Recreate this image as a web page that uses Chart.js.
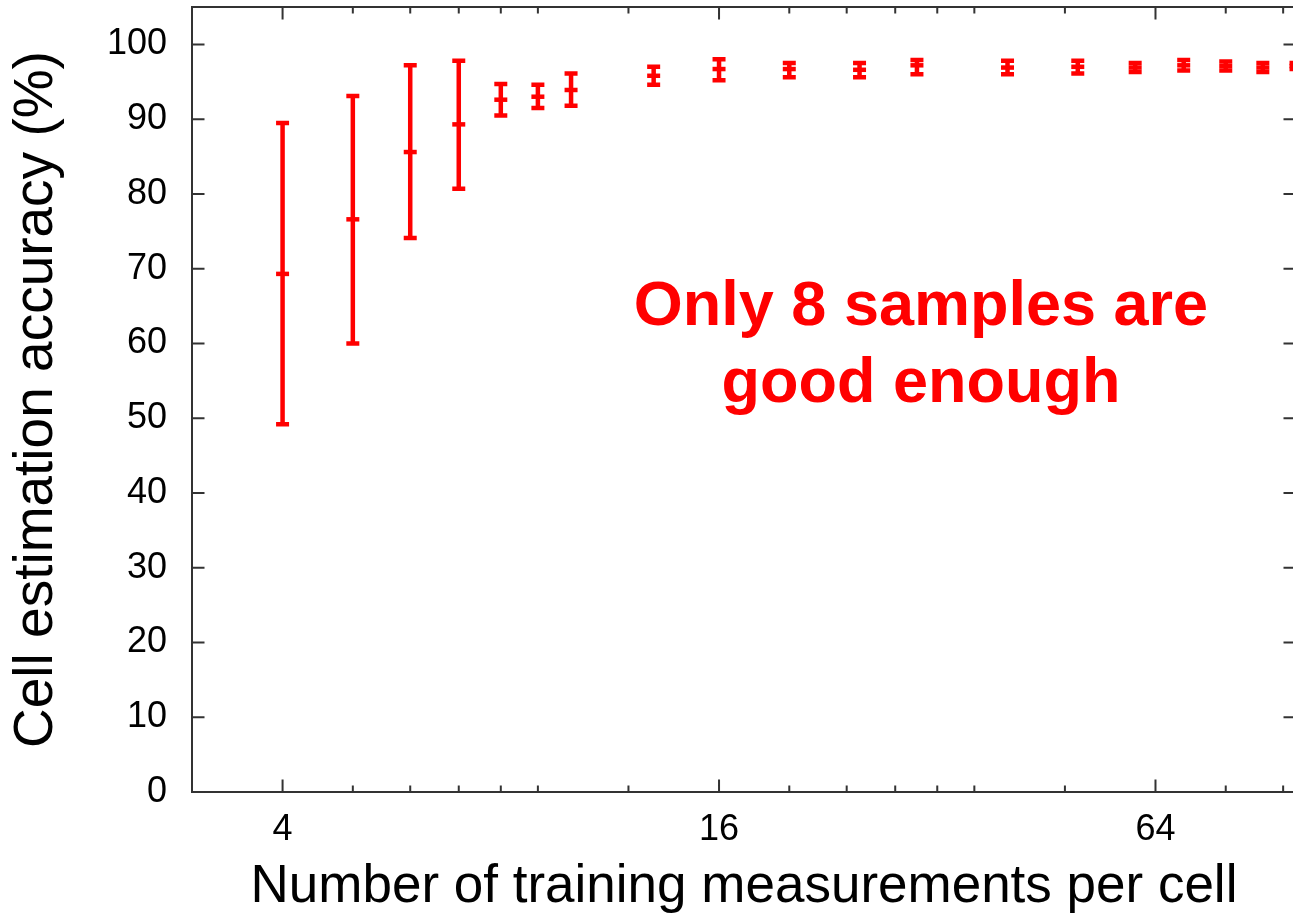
<!DOCTYPE html>
<html>
<head>
<meta charset="utf-8">
<script src="https://cdn.jsdelivr.net/npm/chart.js@4"></script>
<style>
  html, body { margin: 0; padding: 0; background: #fff; overflow: hidden; }
  #wrap { width: 1300px; height: 914px; }
</style>
</head>
<body>
<div id="wrap"><canvas id="myChart" width="1300" height="914"></canvas></div>
<script>
// training samples per cell (x) and accuracy stats (%)
var xValues    = [4, 5, 6, 7, 8, 9, 10, 13, 16, 20, 25, 30, 40, 50, 60, 70, 80, 90, 100];
var meanValues = [69.3, 76.6, 85.6, 89.3, 92.6, 93.0, 93.9, 95.8, 96.7, 96.7, 96.6, 97.2, 96.9, 97.0, 96.9, 97.2, 97.1, 96.9, 97.1];
var lowValues  = [49.2, 60.0, 74.1, 80.7, 90.5, 91.5, 91.8, 94.6, 95.2, 95.6, 95.6, 96.0, 96.0, 96.1, 96.3, 96.5, 96.5, 96.3, 96.7];
var highValues = [89.5, 93.1, 97.2, 97.8, 94.7, 94.6, 96.1, 97.0, 98.0, 97.5, 97.5, 97.9, 97.8, 97.8, 97.5, 97.9, 97.7, 97.5, 97.5];

var xMajorTicks = [4, 16, 64];
var xMinorTicks = [5, 6, 7, 8, 9, 12, 20, 24, 28, 32, 36, 48, 80, 96];
var yTicks = [0, 10, 20, 30, 40, 50, 60, 70, 80, 90, 100];

var noteLines = ["Only 8 samples are", "good enough"];

var red = "#ff0000";
var axisColor = "#333333";
var fontName = "'Liberation Sans', Arial, sans-serif";

var points = xValues.map(function (x, i) { return { x: x, y: meanValues[i] }; });

// error bars + gnuplot style box with inward ticks
var errorBars = {
  id: "errorBars",
  afterDatasetsDraw: function (chart) {
    var ctx = chart.ctx;
    var xs = chart.scales.x, ys = chart.scales.y;
    var a = chart.chartArea;
    ctx.save();
    ctx.beginPath();
    ctx.rect(a.left, a.top, a.right - a.left, a.bottom - a.top);
    ctx.clip();
    ctx.strokeStyle = red;
    ctx.lineWidth = 4.5;
    for (var i = 0; i < xValues.length; i++) {
      var px = xs.getPixelForValue(xValues[i]);
      var lo = ys.getPixelForValue(lowValues[i]);
      var hi = ys.getPixelForValue(highValues[i]);
      ctx.beginPath();
      ctx.moveTo(px, lo); ctx.lineTo(px, hi);
      ctx.moveTo(px - 6.5, lo); ctx.lineTo(px + 6.5, lo);
      ctx.moveTo(px - 6.5, hi); ctx.lineTo(px + 6.5, hi);
      ctx.stroke();
    }
    ctx.restore();
  },
  afterDraw: function (chart) {
    var ctx = chart.ctx;
    var xs = chart.scales.x, ys = chart.scales.y;
    var a = chart.chartArea;
    ctx.save();
    ctx.strokeStyle = axisColor;
    ctx.lineWidth = 2;
    ctx.strokeRect(a.left, a.top, a.right - a.left, a.bottom - a.top);
    ctx.beginPath();
    yTicks.forEach(function (v) {
      var py = ys.getPixelForValue(v);
      ctx.moveTo(a.left, py); ctx.lineTo(a.left + 12.5, py);
      ctx.moveTo(a.right, py); ctx.lineTo(a.right - 12.5, py);
    });
    xMajorTicks.forEach(function (v) {
      var px = xs.getPixelForValue(v);
      ctx.moveTo(px, a.bottom); ctx.lineTo(px, a.bottom - 12.5);
      ctx.moveTo(px, a.top); ctx.lineTo(px, a.top + 12.5);
    });
    xMinorTicks.forEach(function (v) {
      var px = xs.getPixelForValue(v);
      ctx.moveTo(px, a.bottom); ctx.lineTo(px, a.bottom - 6.5);
      ctx.moveTo(px, a.top); ctx.lineTo(px, a.top + 6.5);
    });
    ctx.stroke();

    // annotation
    ctx.fillStyle = red;
    ctx.font = "bold 63px " + fontName;
    ctx.textAlign = "center";
    ctx.textBaseline = "alphabetic";
    ctx.fillText(noteLines[0], 921, 325);
    ctx.fillText(noteLines[1], 921, 402);
    ctx.restore();
  }
};

new Chart("myChart", {
  type: "scatter",
  data: {
    datasets: [{
      data: points,
      pointStyle: "line",
      pointRadius: 6.5,
      pointHoverRadius: 6.5,
      borderColor: red,
      backgroundColor: red,
      borderWidth: 4.5,
      pointBorderWidth: 4.5
    }]
  },
  options: {
    responsive: false,
    animation: false,
    events: [],
    layout: { autoPadding: false, padding: { left: 0, top: 7, right: 4, bottom: 0 } },
    plugins: { legend: { display: false }, tooltip: { enabled: false } },
    scales: {
      x: {
        type: "logarithmic",
        min: 3,
        max: 100,
        grid: { display: false, drawTicks: false },
        border: { display: false },
        afterBuildTicks: function (scale) {
          scale.ticks = xMajorTicks.map(function (v) { return { value: v }; });
        },
        afterFit: function (scale) {
          scale.height = 122;
          scale.paddingLeft = 0;
          scale.paddingRight = 0;
        },
        ticks: {
          color: "#000",
          padding: 16,
          maxRotation: 0,
          autoSkip: false,
          font: { family: fontName, size: 36 },
          callback: function (v) { return String(v); }
        },
        title: {
          display: true,
          text: "Number of training measurements per cell",
          color: "#000",
          font: { family: fontName, size: 53, lineHeight: 1 },
          padding: { top: 0, bottom: 0 }
        }
      },
      y: {
        min: 0,
        max: 105,
        grid: { display: false, drawTicks: false },
        border: { display: false },
        afterBuildTicks: function (scale) {
          scale.ticks = yTicks.map(function (v) { return { value: v }; });
        },
        afterFit: function (scale) {
          scale.width = 192;
          scale.paddingTop = 0;
          scale.paddingBottom = 0;
        },
        ticks: {
          color: "#000",
          padding: 25,
          font: { family: fontName, size: 36 }
        },
        title: {
          display: true,
          text: "Cell estimation accuracy (%)",
          color: "#000",
          font: { family: fontName, size: 55 },
          padding: { top: 4, bottom: 0 }
        }
      }
    }
  },
  plugins: [errorBars]
});
</script>
</body>
</html>
